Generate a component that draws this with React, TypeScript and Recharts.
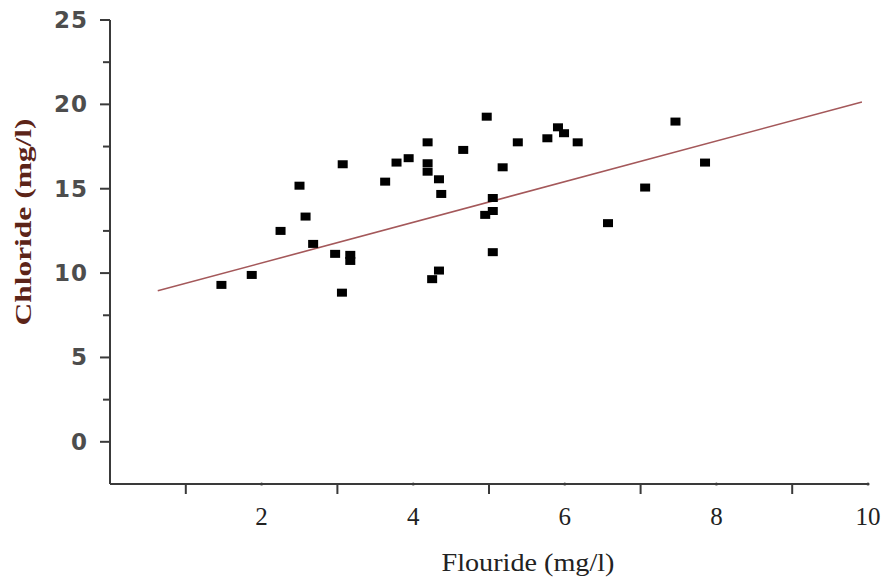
import React from 'react';
import { ScatterChart, Scatter, XAxis, YAxis, ReferenceLine } from 'recharts';

// Fluoride (mg/l) values of the sampled points
const fluoride = [
  1.47, 1.87, 2.25, 2.5, 2.58, 2.68, 2.97, 3.17, 3.17, 3.07, 3.06, 3.63,
  3.78, 3.94, 4.19, 4.19, 4.19, 4.34, 4.37, 4.25, 4.34, 4.66, 4.97, 5.05,
  5.05, 4.95, 5.05, 5.18, 5.38, 5.77, 5.91, 5.99, 6.17, 6.57, 7.06, 7.46, 7.85,
];
// Chloride (mg/l) values of the sampled points
const chloride = [
  9.3, 9.89, 12.5, 15.18, 13.35, 11.73, 11.14, 11.08, 10.72, 16.45, 8.84, 15.42,
  16.55, 16.81, 17.75, 16.51, 16.01, 15.56, 14.69, 9.64, 10.15, 17.3, 19.27, 14.45,
  13.68, 13.45, 11.24, 16.27, 17.75, 17.99, 18.64, 18.29, 17.75, 12.96, 15.07, 18.98, 16.55,
];

// Trend line end points
const trendX = [0.63, 9.92];
const trendY = [8.95, 20.14];

const xTicks = [1, 2, 3, 4, 5, 6, 7, 8, 9, 10];
const yTicks = [0, 2.5, 5, 7.5, 10, 12.5, 15, 17.5, 20, 22.5, 25];
const xDomain = [0, 10];
const yDomain = [-2.5, 25];

const points = fluoride.map((x, i) => ({ x, y: chloride[i] }));

const AXIS = '#3a3a3a';

const XTick = (props: any) => {
  const { x, y, payload } = props;
  const v = payload.value;
  if (v % 2 === 1) {
    return <line x1={x} x2={x} y1={y} y2={y + 10} stroke={AXIS} strokeWidth={2} />;
  }
  return (
    <g>
      <circle cx={x} cy={y} r={1.6} fill={AXIS} />
      <text
        x={x}
        y={y + 41}
        textAnchor="middle"
        fontFamily="'Liberation Serif', 'Times New Roman', serif"
        fontSize={25}
        fill="#222"
      >
        {v}
      </text>
    </g>
  );
};

const YTick = (props: any) => {
  const { x, y, payload } = props;
  const v = payload.value;
  if (v % 5 !== 0) {
    return <line x1={x - 7} x2={x + 1} y1={y} y2={y} stroke={AXIS} strokeWidth={2} />;
  }
  return (
    <g>
      <line x1={x - 10} x2={x} y1={y} y2={y} stroke={AXIS} strokeWidth={2} />
      <text
        x={x - 22}
        y={y}
        textAnchor="end"
        dominantBaseline="central"
        fontFamily="'DejaVu Sans', sans-serif"
        fontWeight="bold"
        fontSize={23}
        letterSpacing={1}
        fill="#4d4d4d"
      >
        {v}
      </text>
    </g>
  );
};

const SquareMarker = (props: any) => {
  const { cx, cy } = props;
  if (cx == null || cy == null) return null;
  return <rect x={cx - 5} y={cy - 4} width={10} height={8} fill="#000" />;
};

export default function App() {
  return (
    <div style={{ position: 'absolute', left: 0, top: 0, width: 882, height: 582, background: '#fff' }}>
      <ScatterChart width={882} height={582} margin={{ top: 20, right: 14, bottom: 0, left: 0 }}>
        <XAxis
          type="number"
          dataKey="x"
          domain={xDomain}
          ticks={xTicks}
          interval={0}
          tick={<XTick />}
          tickLine={false}
          tickSize={0}
          tickMargin={0}
          height={98}
          axisLine={{ stroke: AXIS, strokeWidth: 2 }}
          allowDataOverflow
        />
        <YAxis
          type="number"
          dataKey="y"
          domain={yDomain}
          ticks={yTicks}
          interval={0}
          tick={<YTick />}
          tickLine={false}
          tickSize={0}
          tickMargin={0}
          width={110}
          axisLine={{ stroke: AXIS, strokeWidth: 2 }}
          allowDataOverflow
        />
        <ReferenceLine
          segment={[
            { x: trendX[0], y: trendY[0] },
            { x: trendX[1], y: trendY[1] },
          ]}
          stroke="#a4585a"
          strokeWidth={1.6}
        />
        <Scatter data={points} shape={<SquareMarker />} isAnimationActive={false} />
      </ScatterChart>
      <svg
        width={882}
        height={582}
        style={{ position: 'absolute', left: 0, top: 0, pointerEvents: 'none' }}
      >
        <text
          x={528}
          y={571}
          textAnchor="middle"
          fontFamily="'Liberation Serif', 'Times New Roman', serif"
          fontSize={25}
          fill="#222"
          textLength={173}
          lengthAdjust="spacingAndGlyphs"
        >
          Flouride (mg/l)
        </text>
        <text
          x={23}
          y={222}
          transform="rotate(-90, 23, 222)"
          textAnchor="middle"
          dominantBaseline="central"
          fontFamily="'Liberation Serif', 'Times New Roman', serif"
          fontWeight="bold"
          fontSize={24}
          fill="#5c2418"
          textLength={207}
          lengthAdjust="spacingAndGlyphs"
        >
          Chloride (mg/l)
        </text>
      </svg>
    </div>
  );
}
